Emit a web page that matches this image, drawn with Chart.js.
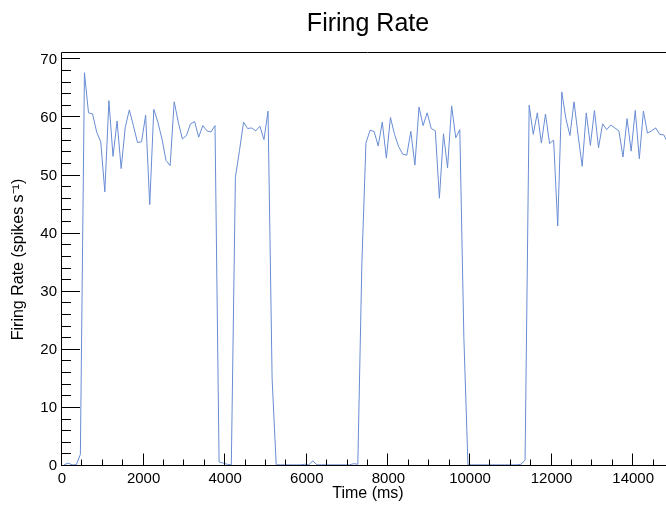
<!DOCTYPE html>
<html>
<head>
<meta charset="utf-8">
<title>Firing Rate</title>
<script src="https://cdn.jsdelivr.net/npm/chart.js@4.4.1/dist/chart.umd.min.js"></script>
<style>
html, body { margin: 0; padding: 0; background: #fff; overflow: hidden; }
#mycanvas { display: block; }
</style>
</head>
<body>
<canvas id="mycanvas" width="700" height="505"></canvas>
<script>
// bin centres (ms)
var timeMs = [
	50,150,250,350,450,550,650,750,850,950,
	1050,1150,1250,1350,1450,1550,1650,1750,1850,1950,
	2050,2150,2250,2350,2450,2550,2650,2750,2850,2950,
	3050,3150,3250,3350,3450,3550,3650,3750,3850,3950,
	4050,4150,4250,4350,4450,4550,4650,4750,4850,4950,
	5050,5150,5250,5350,5450,5550,5650,5750,5850,5950,
	6050,6150,6250,6350,6450,6550,6650,6750,6850,6950,
	7050,7150,7250,7350,7450,7550,7650,7750,7850,7950,
	8050,8150,8250,8350,8450,8550,8650,8750,8850,8950,
	9050,9150,9250,9350,9450,9550,9650,9750,9850,9950,
	10050,10150,10250,10350,10450,10550,10650,10750,10850,10950,
	11050,11150,11250,11350,11450,11550,11650,11750,11850,11950,
	12050,12150,12250,12350,12450,12550,12650,12750,12850,12950,
	13050,13150,13250,13350,13450,13550,13650,13750,13850,13950,
	14050,14150,14250,14350,14450,14550,14650,14750,14850,14950
];

// spikes per second
var rate = [
	0.2,0.5,0.2,0.2,2.0,67.7,60.8,60.6,57.5,55.8,
	47.2,62.9,53.3,59.4,51.2,58.3,61.3,58.6,55.7,55.8,
	60.4,45.0,61.4,59.2,56.3,52.6,51.7,62.7,59.2,56.3,
	56.9,58.9,59.3,56.6,58.6,57.7,57.5,58.6,0.7,0.5,
	0.3,0.2,49.7,54.3,59.2,58.1,58.2,57.7,58.5,56.2,
	61.1,15.0,0.2,0.2,0.2,0.2,0.2,0.2,0.2,0.3,
	0.2,0.9,0.2,0.2,0.2,0.2,0.2,0.2,0.2,0.2,
	0.2,0.4,0.3,35.0,55.6,57.8,57.6,55.1,59.2,53.0,
	60.0,57.1,55.0,53.7,53.5,57.6,51.8,61.8,58.6,60.8,
	58.1,57.7,46.1,57.2,51.3,62.0,56.5,57.9,22.0,0.2,
	0.2,0.2,0.2,0.2,0.2,0.2,0.2,0.2,0.2,0.2,
	0.2,0.2,0.3,1.0,62.1,57.1,60.8,55.6,60.6,55.5,
	56.1,41.3,64.4,59.8,56.9,62.7,56.9,51.6,60.8,55.2,
	61.2,54.8,58.9,57.9,58.7,58.2,57.7,53.2,59.8,54.2,
	61.2,52.9,61.1,57.3,57.7,58.2,57.1,57.0,55.6,57.0
];

var xTickLabels = [0,2000,4000,6000,8000,10000,12000,14000];
var yTickLabels = [0,10,20,30,40,50,60,70];

var points = [];
for (var i in timeMs) {
	points.push({x: timeMs[i], y: rate[i]});
}

Chart.defaults.font.family = "'Liberation Sans', Arial, sans-serif";
Chart.defaults.color = '#000';

// ROOT style frame with ticks pointing inwards
var frameTicks = {
	id: 'frameTicks',
	afterDraw: function(chart) {
		var ctx = chart.ctx;
		var a = chart.chartArea;
		var xs = chart.scales.x;
		var ys = chart.scales.y;
		ctx.save();
		ctx.strokeStyle = '#000';
		ctx.lineWidth = 1;
		ctx.beginPath();
		for (var t = 0; t <= 15000; t += 500) {
			var px = Math.round(xs.getPixelForValue(t)) - 0.5;
			var len = (t % 2000 === 0) ? 12.5 : 6.5;
			ctx.moveTo(px, a.bottom);
			ctx.lineTo(px, a.bottom - len);
		}
		for (var v = 0; v <= 70; v += 2) {
			var py = Math.round(ys.getPixelForValue(v)) - 0.5;
			var ln = (v % 10 === 0) ? 18 : 9;
			ctx.moveTo(a.left, py);
			ctx.lineTo(a.left + ln, py);
		}
		ctx.stroke();
		ctx.beginPath();
		ctx.rect(Math.round(a.left) - 0.5, Math.round(a.top) - 0.5,
			Math.round(a.right - a.left), Math.round(a.bottom - a.top));
		ctx.stroke();
		ctx.restore();
	}
};

var ctx = document.getElementById('mycanvas');

var lineGraph = new Chart(ctx, {
	type: 'line',
	data: {
		datasets: [{
			label: 'Firing Rate',
			data: points,
			borderColor: 'rgb(104,140,212)',
			borderWidth: 1,
			pointRadius: 0,
			tension: 0,
			clip: false
		}]
	},
	options: {
		responsive: false,
		animation: false,
		devicePixelRatio: 1,
		layout: { padding: { top: 0, right: 26, bottom: 0, left: 0 } },
		plugins: {
			legend: { display: false },
			tooltip: { enabled: false },
			title: {
				display: true,
				text: 'Firing Rate',
				fullSize: false,
				color: '#000',
				font: { size: 25, weight: 'normal' },
				padding: { top: 9, bottom: 14 }
			}
		},
		scales: {
			x: {
				type: 'linear',
				min: 0,
				max: 15000,
				grid: { display: false, drawTicks: false },
				border: { display: false },
				afterBuildTicks: function(scale) {
					scale.ticks = xTickLabels.map(function(v) { return {value: v}; });
				},
				afterFit: function(scale) { scale.height = 39; },
				ticks: {
					font: { size: 15 },
					padding: 4,
					maxRotation: 0,
					callback: function(v) { return v; }
				},
				title: {
					display: true,
					text: 'Time (ms)',
					font: { size: 16 },
					padding: { top: 0, bottom: 2 }
				}
			},
			y: {
				type: 'linear',
				min: 0,
				max: 71.1,
				grid: { display: false, drawTicks: false },
				border: { display: false },
				afterBuildTicks: function(scale) {
					scale.ticks = yTickLabels.map(function(v) { return {value: v}; });
				},
				afterFit: function(scale) { scale.width = 62; },
				ticks: {
					font: { size: 15 },
					padding: 5
				},
				title: {
					display: true,
					text: 'Firing Rate (spikes s\u207B\u00B9)',
					font: { size: 16 },
					padding: { top: 9, bottom: 0 }
				}
			}
		}
	},
	plugins: [frameTicks]
});
</script>
</body>
</html>
